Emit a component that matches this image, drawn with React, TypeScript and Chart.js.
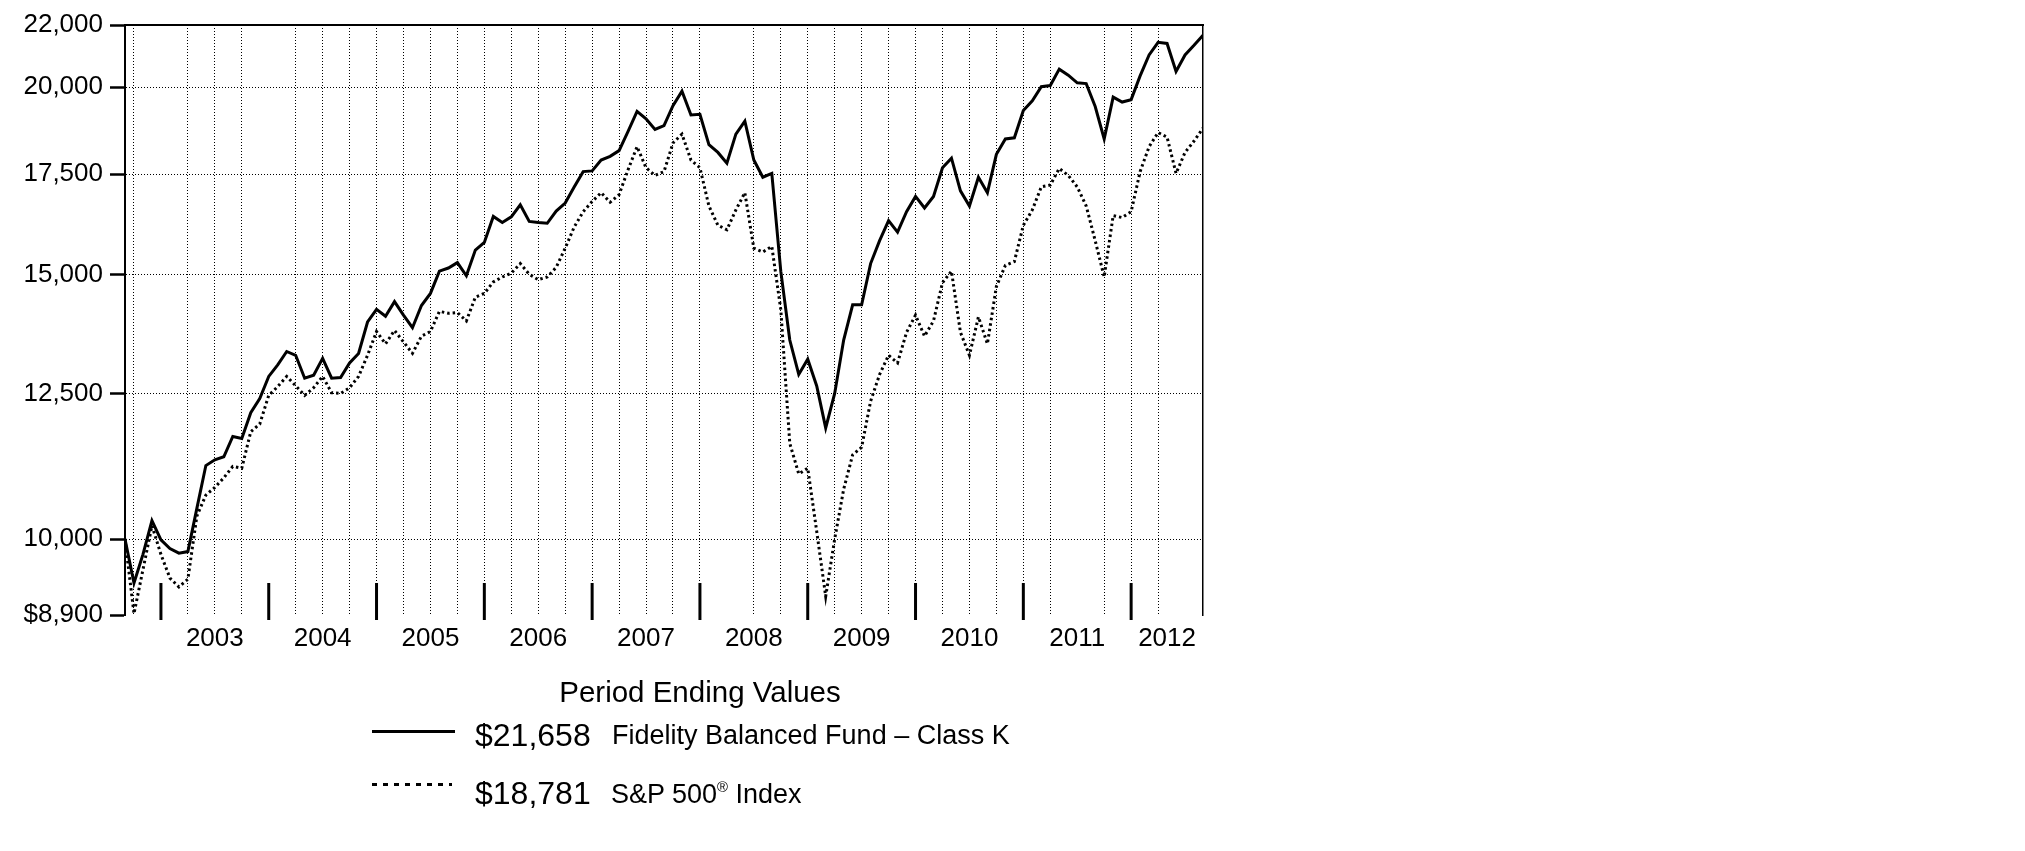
import React, { useEffect, useRef } from 'react';
import { Chart, registerables } from 'chart.js';

Chart.register(...registerables);

// Month index 0 = Aug 31, 2002 ... 120 = Aug 31, 2012
const fundValues = [
  10000, 9348, 9768, 10285, 9988, 9854, 9786, 9809, 10481, 11193,
  11293, 11345, 11703, 11668, 12137, 12404, 12833, 13062, 13333, 13256,
  12797, 12857, 13193, 12797, 12811, 13101, 13293, 13950, 14225, 14075,
  14393, 14098, 13828, 14307, 14575, 15082, 15154, 15280, 14976, 15577,
  15761, 16403, 16249, 16392, 16696, 16278, 16249, 16230, 16539, 16743,
  17161, 17569, 17589, 17884, 17987, 18145, 18687, 19268, 19052, 18743,
  18852, 19437, 19875, 19164, 19186, 18308, 18094, 17797, 18609, 18985,
  17884, 17418, 17521, 15082, 13569, 12871, 13177, 12647, 11858, 12502,
  13569, 14322, 14322, 15258, 15804, 16297, 16012, 16520, 16913, 16615,
  16913, 17674, 17935, 17060, 16667, 17418, 17011, 18042, 18471, 18505,
  19298, 19584, 20013, 20050, 20560, 20370, 20132, 20109, 19413, 18471,
  19697, 19548, 19620, 20347, 21013, 21424, 21385, 20488, 21013, 21325,
  21658,
];

const indexValues = [
  10000, 8919, 9541, 10207, 9767, 9419, 9292, 9402, 10358, 10698,
  10824, 10985, 11179, 11148, 11789, 11929, 12465, 12635, 12833, 12649,
  12465, 12612, 12833, 12516, 12501, 12612, 12833, 13256, 13747, 13490,
  13770, 13530, 13295, 13649, 13747, 14180, 14138, 14154, 13973, 14492,
  14575, 14834, 14947, 15037, 15258, 15010, 14886, 14947, 15170, 15621,
  16137, 16520, 16782, 17011, 16762, 16960, 17621, 18253, 17674, 17468,
  17569, 18358, 18609, 17884, 17674, 16667, 16182, 16069, 16567, 17011,
  15621, 15530, 15667, 14221, 11582, 11050, 11148, 10118, 9158, 10000,
  10794, 11378, 11512, 12355, 12871, 13256, 13101, 13731, 14098, 13649,
  13973, 14817, 15082, 13731, 13256, 14059, 13490, 14730, 15216, 15304,
  16182, 16567, 17161, 17212, 17653, 17468, 17161, 16667, 15804, 14947,
  16423, 16374, 16520, 17569, 18253, 18653, 18524, 17521, 18094, 18413,
  18781,
];

const yTickValues = [8900, 10000, 12500, 15000, 17500, 20000, 22000];
const yearLabels = ['2003', '2004', '2005', '2006', '2007', '2008', '2009', '2010', '2011', '2012'];
// December month-ends (months since Aug 2002)
const yearEndMonths = [4, 16, 28, 40, 52, 64, 76, 88, 100, 112];
const lastMonth = 120;
// quarter-end months carrying a vertical grid line
const gridMonths = [1, 7, 10, 13, 19, 22, 25, 28, 31, 34, 37, 40, 43, 46, 49, 52, 55, 58, 61, 64,
  70, 73, 76, 79, 82, 85, 88, 91, 94, 97, 100, 103, 109, 112, 115];

const legendTitle = 'Period Ending Values';
const fundName = 'Fidelity Balanced Fund \u2013 Class K';
const fundEnding = '$21,658';
const indexEnding = '$18,781';

const FONT = '"Liberation Sans", Arial, Helvetica, sans-serif';

const yearBounds = [...yearEndMonths, lastMonth];
const yearMids = yearLabels.map((_, k) => (yearBounds[k] + yearBounds[k + 1]) / 2);

const yearTicksPlugin = {
  id: 'yearTicks',
  beforeDatasetsDraw(chart: any) {
    const { ctx, chartArea, scales } = chart;
    const xs = scales.x;
    ctx.save();
    ctx.strokeStyle = '#000';
    ctx.lineWidth = 3;
    yearEndMonths.forEach((m) => {
      const px = xs.getPixelForValue(m);
      ctx.beginPath();
      ctx.moveTo(px, chartArea.bottom + 5);
      ctx.lineTo(px, chartArea.bottom - 32);
      ctx.stroke();
    });
    ctx.restore();
  },
};

export default function App() {
  const canvasRef = useRef<HTMLCanvasElement | null>(null);

  useEffect(() => {
    const canvas = canvasRef.current;
    if (!canvas) return;
    const chart = new Chart(canvas, {
      type: 'line',
      data: {
        datasets: [
          {
            label: fundName,
            data: fundValues.map((v, i) => ({ x: i, y: v })),
            borderColor: '#000',
            borderWidth: 3,
            pointRadius: 0,
            tension: 0,
            xAxisID: 'x',
            yAxisID: 'y',
          },
          {
            label: 'S&P 500\u00AE Index',
            data: indexValues.map((v, i) => ({ x: i, y: v })),
            borderColor: '#000',
            borderWidth: 3,
            borderDash: [2.5, 3],
            pointRadius: 0,
            tension: 0,
            xAxisID: 'x',
            yAxisID: 'y',
          },
        ],
      },
      options: {
        responsive: false,
        maintainAspectRatio: false,
        animation: false,
        layout: { padding: { left: 0, top: 25, right: 822, bottom: 176 } },
        plugins: { legend: { display: false }, tooltip: { enabled: false } },
        scales: {
          x: {
            type: 'linear',
            position: 'bottom',
            min: 0,
            max: lastMonth,
            afterBuildTicks: (ax: any) => {
              ax.ticks = gridMonths.map((v) => ({ value: v }));
            },
            ticks: { display: false },
            grid: { color: '#000', lineWidth: 1, drawTicks: false, borderDash: [1, 2] } as any,
            border: { display: false, dash: [1, 2] },
            afterFit: (s: any) => { s.height = 0; },
          },
          xYears: {
            type: 'linear',
            position: 'bottom',
            min: 0,
            max: lastMonth,
            afterBuildTicks: (ax: any) => {
              ax.ticks = yearMids.map((v) => ({ value: v }));
            },
            ticks: {
              callback: (_v: any, idx: number) => yearLabels[idx],
              font: { family: FONT, size: 26 },
              color: '#000',
              padding: 0,
              maxRotation: 0,
              autoSkip: false,
            },
            grid: { display: false },
            border: { display: false },
            afterFit: (s: any) => { s.height = 60; },
          },
          xTop: {
            type: 'linear',
            position: 'top',
            min: 0,
            max: lastMonth,
            ticks: { display: false },
            grid: { display: false },
            border: { display: true, color: '#000', width: 2 },
            afterFit: (s: any) => { s.height = 0; },
          },
          y: {
            type: 'logarithmic',
            position: 'left',
            min: 8900,
            max: 22000,
            afterBuildTicks: (ax: any) => {
              ax.ticks = yTickValues.map((v) => ({ value: v }));
            },
            ticks: {
              callback: (v: any) => (v === yTickValues[0] ? '$' : '') + Number(v).toLocaleString('en-US'),
              font: { family: FONT, size: 26 },
              color: '#000',
              padding: 7,
              autoSkip: false,
            },
            grid: {
              color: (c: any) =>
                c.tick && (c.tick.value === yTickValues[0] || c.tick.value === yTickValues[yTickValues.length - 1])
                  ? 'rgba(0,0,0,0)'
                  : '#000',
              lineWidth: 1,
              drawTicks: true,
              tickLength: 15,
              tickColor: '#000',
              tickWidth: 2.5,
              borderDash: [1, 2],
            } as any,
            border: { display: true, color: '#000', width: 2, dash: [1, 2] },
            afterFit: (s: any) => { s.width = 125; },
          },
          yRight: {
            type: 'linear',
            position: 'right',
            ticks: { display: false },
            grid: { display: false },
            border: { display: true, color: '#000', width: 1.5 },
            afterFit: (s: any) => { s.width = 0; },
          },
        },
      } as any,
      plugins: [yearTicksPlugin],
    });
    return () => chart.destroy();
  }, []);

  const textBase: React.CSSProperties = {
    position: 'absolute',
    fontFamily: FONT,
    color: '#000',
    lineHeight: 1,
    whiteSpace: 'nowrap',
    transform: 'translateY(-50%)',
  };

  return (
    <div style={{ position: 'absolute', left: 0, top: 0, width: 2025, height: 851, background: '#fff' }}>
      <canvas ref={canvasRef} width={2025} height={851} style={{ position: 'absolute', left: 0, top: 0 }} />
      <div style={{ ...textBase, left: 500, width: 400, top: 692, fontSize: 29.5, textAlign: 'center' }}>{legendTitle}</div>
      <div style={{ position: 'absolute', left: 372, top: 730, width: 83, height: 3, background: '#000' }} />
      <div style={{ ...textBase, left: 475, top: 735, fontSize: 32 }}>{fundEnding}</div>
      <div style={{ ...textBase, left: 612, top: 735, fontSize: 27 }}>{fundName}</div>
      <div
        style={{
          position: 'absolute', left: 372, top: 783, width: 80, height: 2.5,
          background: 'repeating-linear-gradient(to right, #000 0 5px, transparent 5px 11px)',
        }}
      />
      <div style={{ ...textBase, left: 475, top: 793, fontSize: 32 }}>{indexEnding}</div>
      <div style={{ ...textBase, left: 611, top: 794, fontSize: 27 }}>
        S&amp;P 500<sup style={{ fontSize: '0.55em', verticalAlign: '0.7em', lineHeight: 0 }}>{'\u00AE'}</sup> Index
      </div>
    </div>
  );
}
